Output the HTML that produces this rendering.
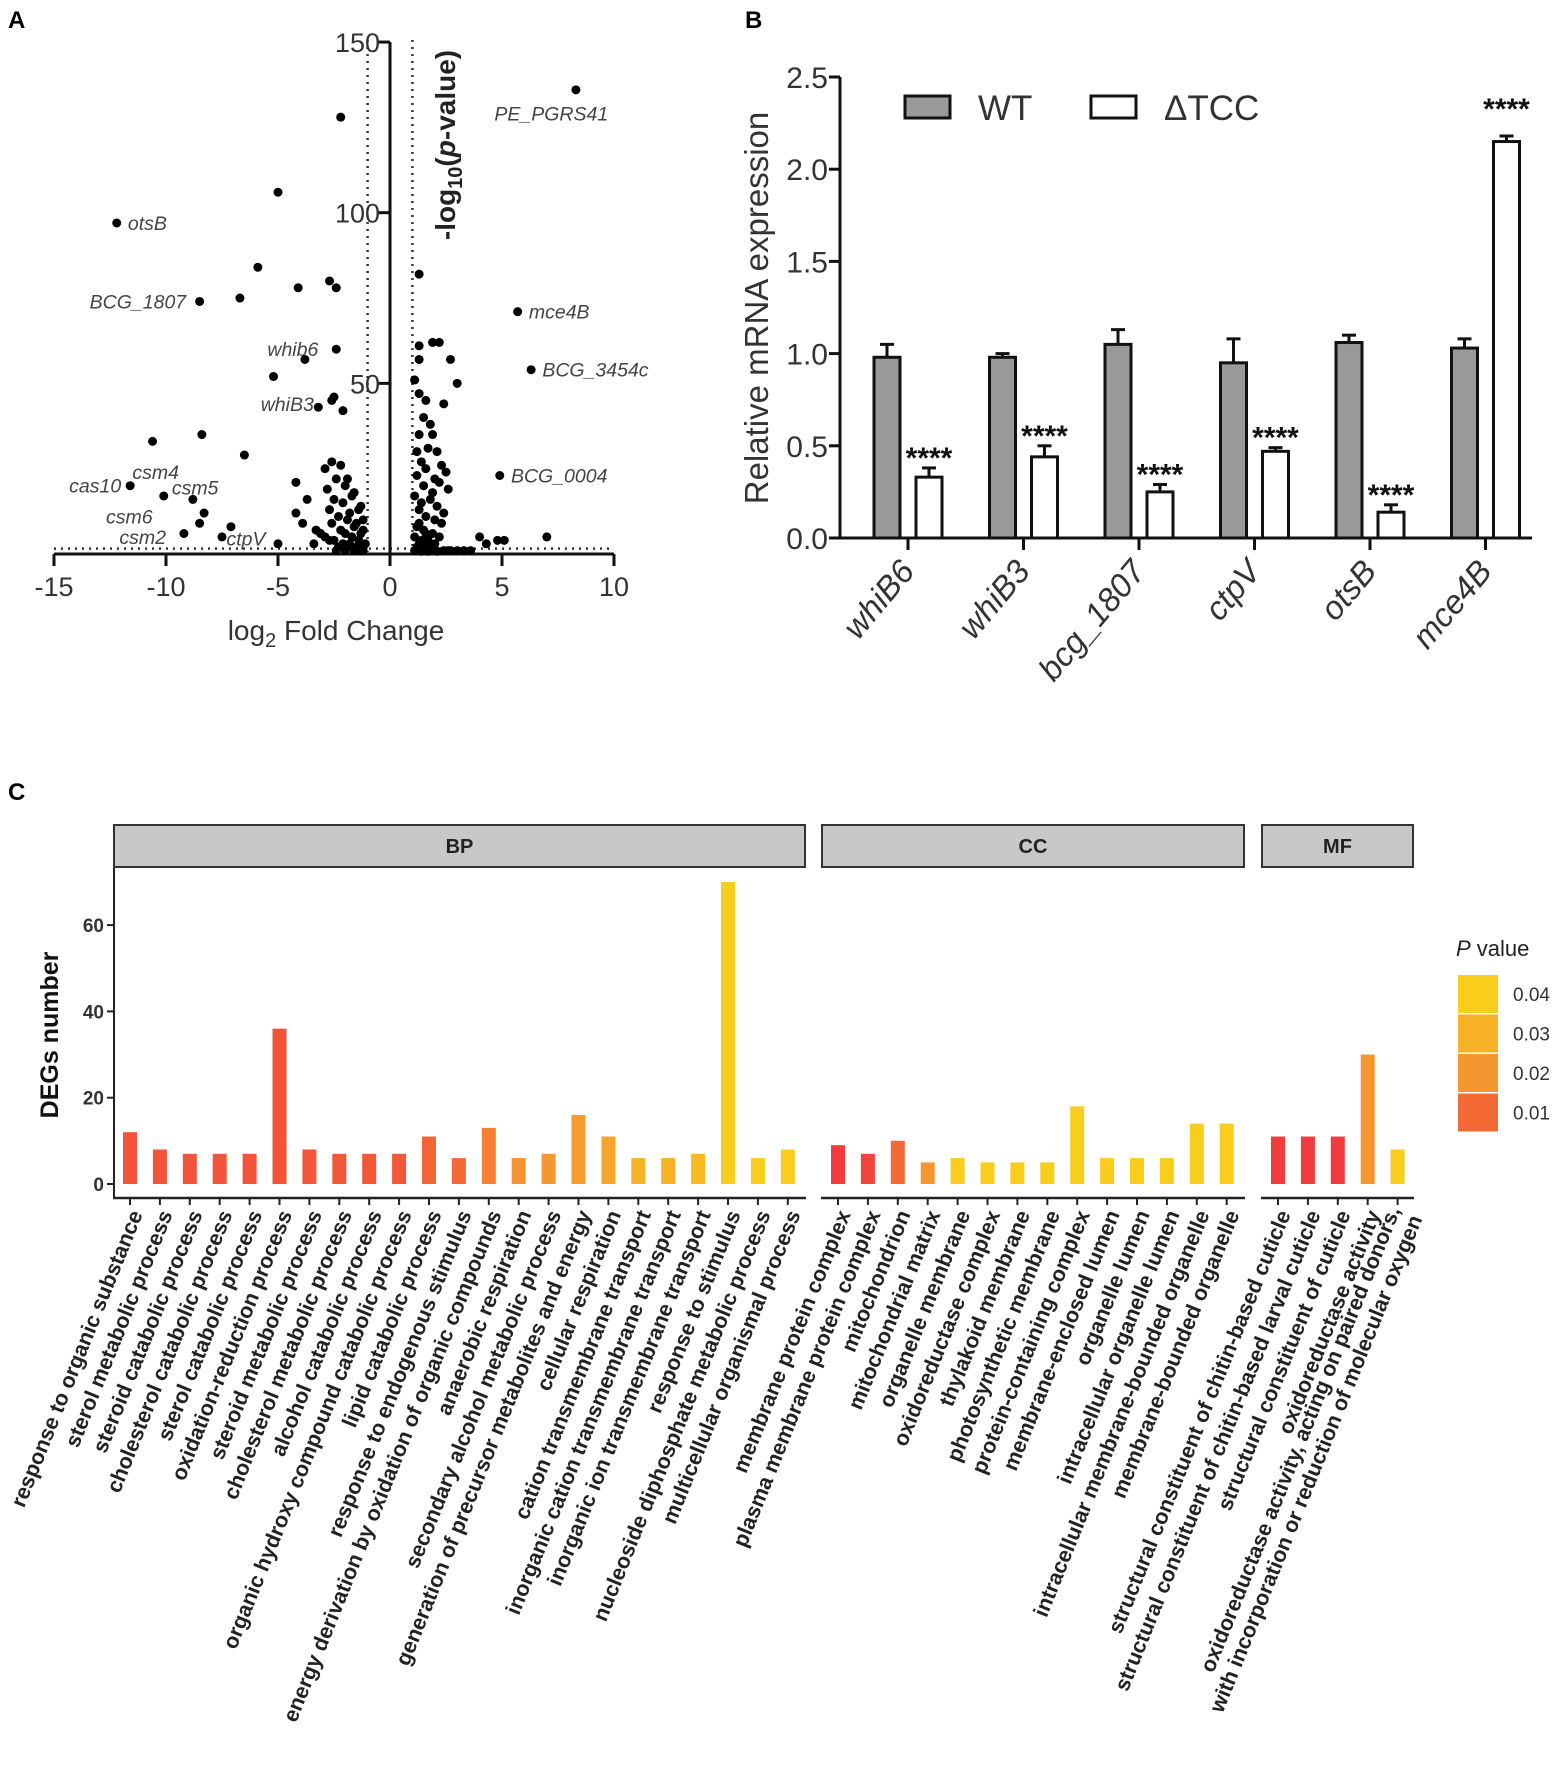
<!DOCTYPE html>
<html><head><meta charset="utf-8"><style>
html,body{margin:0;padding:0;background:#fff;}
svg{display:block;font-family:"Liberation Sans",Arial,sans-serif;}
</style></head><body>
<svg id="fig" width="1566" height="1772" viewBox="0 0 1566 1772">
<text x="8" y="28" font-size="24" font-weight="bold">A</text>
<text x="745" y="28" font-size="24" font-weight="bold">B</text>
<text x="8" y="800" font-size="24" font-weight="bold">C</text>
<g id="pa"></g>
<g id="pb"></g>
<g id="pc"></g>
</svg>
<script>
// ===== Panel A data =====
const volX = [-2.2,-5,-5.9,-4.1,-2.7,-2.4,-6.7,-2.4,-3.8,-5.2,-2.5,-2.6,-3.2,-2.1,-10.6,-8.4,-6.5,-4.2,-3.7,-4.2,-3.9,-7.1,-8.5,-5,-3.4,-3.1,-2.3,-2.9,-2.6,-2.2,-1.9,-1.6,-1.3,-2.4,-2.0,-1.7,-1.4,-1.2,-2.8,-2.5,-2.1,-1.8,-1.5,-1.2,-2.7,-2.3,-1.9,-1.6,-1.3,-2.6,-2.2,-2.0,-1.7,-1.4,-1.1,-2.9,-2.5,-2.1,-1.8,-1.5,-1.2,-2.4,-2.0,-1.6,-1.3,-2.3,-1.9,-1.5,-1.2,-3.3,-2.7,
1.3,1.3,1.9,2.2,1.3,2.7,3.0,1.1,1.3,1.6,2.4,1.5,1.8,1.9,1.3,1.7,2.1,1.2,1.4,2.3,1.6,2.0,2.5,1.2,1.5,1.9,2.2,2.6,1.1,1.4,1.8,2.1,2.4,1.3,1.6,2.0,2.3,1.2,1.5,1.9,2.2,1.1,1.4,1.7,2.0,1.3,1.6,1.9,1.2,1.5,1.8,2.7,2.4,1.1,1.4,1.7,2.1,1.3,1.6,
4,4.3,4.8,5.1,7,3,3.3,2.6,3.6,
8.3,-12.2,-8.5,5.7,6.3,4.9,-11.6,-10.1,-8.8,-7.5,-9.2,-8.3];
const volY = [128,106,84,78,80,78,75,60,57,52,46,45,43,42,33,35,29,21,16,12,9,8,9,3,3,6,2,25,27,26,22,18,14,22,20,17,13,10,19,16,15,12,9,7,13,11,10,8,6,9,7,6,5,4,3,5,4,3,3,2,2,1,1,1,1,2,2,1,1,7,4,
82,61,62,62,57,57,50,51,47,45,44,40,38,35,35,31,30,30,27,26,25,22,24,23,20,18,21,19,17,15,16,14,12,13,11,10,9,8,7,6,5,5,4,4,3,3,2,2,2,1,1,1,1,1,0.8,0.8,0.8,9,6,
5,3,4,4,5,1,1,1,1,
136,97,74,71,54,23,20,17,16,5,6,12];
const volLabels = ["PE_PGRS41","otsB","BCG_1807","mce4B","BCG_3454c","BCG_0004","cas10","csm6","csm5","ctpV","csm2","whib6","whiB3","csm4"];
const volLabX = [7.2,-11.7,-9.1,6.2,6.8,5.4,-12.0,-10.6,-8.7,-7.3,-10.0,-3.2,-3.4,-11.5];
const volLabY = [129,97,74,71,54,23,20,11,19.5,4.5,5,60,44,24];
const volLabAnchor = ["middle","start","end","start","start","start","end","end","middle","start","end","end","end","start"];
// ===== Panel B data =====
const genes = ["whiB6","whiB3","bcg_1807","ctpV","otsB","mce4B"];
const wtVal = [0.98,0.98,1.05,0.95,1.06,1.03];
const wtErr = [0.07,0.02,0.08,0.13,0.04,0.05];
const tccVal = [0.33,0.44,0.25,0.47,0.14,2.15];
const tccErr = [0.05,0.06,0.04,0.02,0.04,0.03];
const bTicks = ["0.0","0.5","1.0","1.5","2.0","2.5"];
// ===== Panel C data =====
const bpTerms = ["response to organic substance","sterol metabolic process","steroid catabolic process","cholesterol catabolic process","sterol catabolic process","oxidation-reduction process","steroid metabolic process","cholesterol metabolic process","alcohol catabolic process","organic hydroxy compound catabolic process","lipid catabolic process","response to endogenous stimulus","energy derivation by oxidation of organic compounds","anaerobic respiration","secondary alcohol metabolic process","generation of precursor metabolites and energy","cellular respiration","cation transmembrane transport","inorganic cation transmembrane transport","inorganic ion transmembrane transport","response to stimulus","nucleoside diphosphate metabolic process","multicellular organismal process"];
const bpCount = [12,8,7,7,7,36,8,7,7,7,11,6,13,6,7,16,11,6,6,7,70,6,8];
const bpP = [0.010,0.010,0.010,0.010,0.010,0.010,0.011,0.011,0.011,0.011,0.014,0.015,0.020,0.024,0.025,0.027,0.030,0.035,0.035,0.038,0.045,0.045,0.045];
const ccTerms = ["membrane protein complex","plasma membrane protein complex","mitochondrion","mitochondrial matrix","organelle membrane","oxidoreductase complex","thylakoid membrane","photosynthetic membrane","protein-containing complex","membrane-enclosed lumen","organelle lumen","intracellular organelle lumen","intracellular membrane-bounded organelle","membrane-bounded organelle"];
const ccCount = [9,7,10,5,6,5,5,5,18,6,6,6,14,14];
const ccP = [0.005,0.007,0.015,0.025,0.045,0.045,0.045,0.045,0.045,0.045,0.045,0.045,0.045,0.045];
const mfTerms = ["structural constituent of chitin-based cuticle","structural constituent of chitin-based larval cuticle","structural constituent of cuticle","oxidoreductase activity","oxidoreductase activity, acting on paired donors,|with incorporation or reduction of molecular oxygen"];
const mfCount = [11,11,11,30,8];
const mfP = [0.005,0.005,0.005,0.025,0.045];
const cTicks = [0,20,40,60];
const legendP = [0.04,0.03,0.02,0.01];

const NS="http://www.w3.org/2000/svg";
function el(parent,tag,attrs,text){const e=document.createElementNS(NS,tag);for(const k in attrs)e.setAttribute(k,attrs[k]);if(text!==undefined)e.textContent=text;parent.appendChild(e);return e;}

// ===== Panel A =====
(function(){
const g=document.getElementById('pa');
const ax=v=>390+v*22.4, ay=v=>554-v*3.413;
let e;
e=el(g,'line',{x1:ax(-1),y1:40,x2:ax(-1),y2:552,stroke:'#333','stroke-width':2.5,'stroke-dasharray':'2 5'});

e=el(g,'line',{x1:ax(1),y1:40,x2:ax(1),y2:552,stroke:'#333','stroke-width':2.5,'stroke-dasharray':'2 5'});

e=el(g,'line',{x1:ax(-15),y1:ay(1.3)-1,x2:ax(10),y2:ay(1.3)-1,stroke:'#333','stroke-width':2.5,'stroke-dasharray':'2 5'});

e=el(g,'line',{x1:ax(0),y1:ay(150),x2:ax(0),y2:ay(0),stroke:'#111','stroke-width':3});

e=el(g,'line',{x1:ax(-15),y1:ay(0),x2:ax(10),y2:ay(0),stroke:'#111','stroke-width':3});

[0,50,100,150].forEach(v=>{
 el(g,'line',{x1:ax(0)-12,y1:ay(v),x2:ax(0),y2:ay(v),stroke:'#111','stroke-width':3});
 if(v>0){e=el(g,'text',{x:ax(0)-10,y:ay(v)+10,'font-size':27,'text-anchor':'end',fill:'#333'},String(v));
 }
});
[-15,-10,-5,0,5,10].forEach(v=>{
 el(g,'line',{x1:ax(v),y1:ay(0),x2:ax(v),y2:ay(0)+12,stroke:'#111','stroke-width':3});
 e=el(g,'text',{x:ax(v),y:ay(0)+42,'font-size':27,'text-anchor':'middle',fill:'#333'},String(v));
 
});
e=el(g,'text',{x:336,y:640,'font-size':28,'text-anchor':'middle',fill:'#333'});
e.innerHTML='log<tspan font-size="20" dy="7">2</tspan><tspan dy="-7"> Fold Change</tspan>';

e=el(g,'text',{transform:'translate(455,145) rotate(-90)','font-size':28,'font-weight':'bold','text-anchor':'middle',fill:'#222'});
e.innerHTML='-log<tspan font-size="20" dy="7">10</tspan><tspan dy="-7">(</tspan><tspan font-style="italic">p</tspan>-value)';

for(let i=0;i<volX.length;i++){
 e=el(g,'circle',{cx:ax(volX[i]),cy:ay(volY[i]),r:4.5,fill:'#000'});
 
}
for(let i=0;i<volLabels.length;i++){
 e=el(g,'text',{x:ax(volLabX[i]),y:ay(volLabY[i])+7,'font-size':19.5,'font-style':'italic','text-anchor':volLabAnchor[i],fill:'#444'},volLabels[i]);
 
}
})();

// ===== Panel B =====
(function(){
const g=document.getElementById('pb');
const by=v=>538-v*184.4, cx=i=>908+i*115.5;
let e;
e=el(g,'line',{x1:840,y1:by(2.5),x2:840,y2:by(0)+1,stroke:'#111','stroke-width':3});

e=el(g,'line',{x1:839,y1:by(0),x2:1532,y2:by(0),stroke:'#111','stroke-width':3});

bTicks.forEach(t=>{const v=parseFloat(t);
 el(g,'line',{x1:829,y1:by(v),x2:840,y2:by(v),stroke:'#111','stroke-width':3});
 e=el(g,'text',{x:828,y:by(v)+11,'font-size':30,'text-anchor':'end',fill:'#333'},t);
 
});
e=el(g,'text',{transform:'translate(768,308) rotate(-90)','font-size':33,'text-anchor':'middle',fill:'#333'},'Relative mRNA expression');

genes.forEach((name,i)=>{
 const c=cx(i);
 el(g,'line',{x1:c,y1:by(0),x2:c,y2:by(0)+12,stroke:'#111','stroke-width':3});
 const wl=c-34,tl=c+8,w=26;
 el(g,'line',{x1:wl+w/2,y1:by(wtVal[i]),x2:wl+w/2,y2:by(wtVal[i]+wtErr[i]),stroke:'#111','stroke-width':3});
 el(g,'line',{x1:wl+w/2-7,y1:by(wtVal[i]+wtErr[i]),x2:wl+w/2+7,y2:by(wtVal[i]+wtErr[i]),stroke:'#111','stroke-width':3});
 e=el(g,'rect',{x:wl,y:by(wtVal[i]),width:w,height:by(0)-by(wtVal[i]),fill:'#999',stroke:'#111','stroke-width':3});
 
 el(g,'line',{x1:tl+w/2,y1:by(tccVal[i]),x2:tl+w/2,y2:by(tccVal[i]+tccErr[i]),stroke:'#111','stroke-width':3});
 el(g,'line',{x1:tl+w/2-7,y1:by(tccVal[i]+tccErr[i]),x2:tl+w/2+7,y2:by(tccVal[i]+tccErr[i]),stroke:'#111','stroke-width':3});
 e=el(g,'rect',{x:tl,y:by(tccVal[i]),width:w,height:by(0)-by(tccVal[i]),fill:'#fff',stroke:'#111','stroke-width':3});
 
 const sy=(i===5)?by(2.5)+30:by(tccVal[i]+tccErr[i])-12;
 e=el(g,'text',{x:tl+w/2,y:sy+12,'font-size':30,'font-weight':'bold','text-anchor':'middle',fill:'#111'},'****');
 
 e=el(g,'text',{transform:'translate('+(c+8)+',572) rotate(-50)','font-size':33,'font-style':'italic','text-anchor':'end',fill:'#333'},name);
 
});
e=el(g,'rect',{x:905,y:96,width:45,height:22,fill:'#999',stroke:'#111','stroke-width':3});

e=el(g,'text',{x:978,y:120,'font-size':35,fill:'#333'},'WT');

e=el(g,'rect',{x:1091,y:96,width:45,height:22,fill:'#fff',stroke:'#111','stroke-width':3});

e=el(g,'text',{x:1164,y:120,'font-size':35,fill:'#333'},'ΔTCC');

})();

// ===== Panel C =====
(function(){
const g=document.getElementById('pc');
const cy=v=>1184-v*4.315;
function pcol(p){
 const stops=[[0.005,[240,60,60]],[0.025,[246,150,48]],[0.045,[249,205,28]]];
 if(p<=stops[0][0])return 'rgb('+stops[0][1]+')';
 for(let k=0;k<stops.length-1;k++){const a=stops[k],b=stops[k+1];
  if(p<=b[0]){const t=(p-a[0])/(b[0]-a[0]);return 'rgb('+a[1].map((c,j)=>Math.round(c+(b[1][j]-c)*t)).join(',')+')';}}
 return 'rgb('+stops[2][1]+')';
}
let e;
const panels=[["BP",113,806,bpTerms,bpCount,bpP],["CC",821,1245,ccTerms,ccCount,ccP],["MF",1261,1414,mfTerms,mfCount,mfP]];
e=el(g,'line',{x1:114,y1:867,x2:114,y2:1198,stroke:'#222','stroke-width':2});

cTicks.forEach(v=>{
 el(g,'line',{x1:107,y1:cy(v),x2:114,y2:cy(v),stroke:'#222','stroke-width':2});
 e=el(g,'text',{x:104,y:cy(v)+7,'font-size':19,'font-weight':'bold','text-anchor':'end',fill:'#333'},String(v));
 
});
e=el(g,'text',{transform:'translate(58,1035) rotate(-90)','font-size':25,'font-weight':'bold','text-anchor':'middle',fill:'#111'},'DEGs number');

panels.forEach(([nm,x0,x1,terms,counts,ps])=>{
 e=el(g,'rect',{x:x0+1,y:825,width:x1-x0-2,height:42,fill:'#c8c8c8',stroke:'#333','stroke-width':2});
 
 e=el(g,'text',{x:(x0+x1)/2,y:853,'font-size':20,'font-weight':'bold','text-anchor':'middle',fill:'#222'},nm);
 
 e=el(g,'line',{x1:x0,y1:1198,x2:x1,y2:1198,stroke:'#222','stroke-width':2.5});
 
 terms.forEach((t,i)=>{
  const c=x0+17+i*29.9;
  e=el(g,'rect',{x:c-7,y:cy(counts[i]),width:14,height:cy(0)-cy(counts[i]),fill:pcol(ps[i])});
  
  el(g,'line',{x1:c,y1:1198,x2:c,y2:1205,stroke:'#222','stroke-width':2});
  const lines=t.split('|');
  e=el(g,'text',{transform:'translate('+(c+13)+',1214) rotate(-68)','font-size':21.5,'font-weight':'bold','text-anchor':'end',fill:'#222'});
  if(lines.length===1){e.textContent=t;}
  else{el(e,'tspan',{x:0,dy:'-0.5em'},lines[0]);el(e,'tspan',{x:0,dy:'1.1em'},lines[1]);}
  
 });
});
e=el(g,'text',{x:1456,y:956,'font-size':22,fill:'#222'});
e.innerHTML='<tspan font-style="italic">P</tspan> value';

legendP.forEach((p,i)=>{
 const y=975+i*39.5;
 e=el(g,'rect',{x:1458,y:y,width:40,height:38,fill:pcol(p+0.005)});
 
 e=el(g,'text',{x:1513,y:y+26,'font-size':19,fill:'#333'},p.toFixed(2));
 
});
})();
</script>
</body></html>
